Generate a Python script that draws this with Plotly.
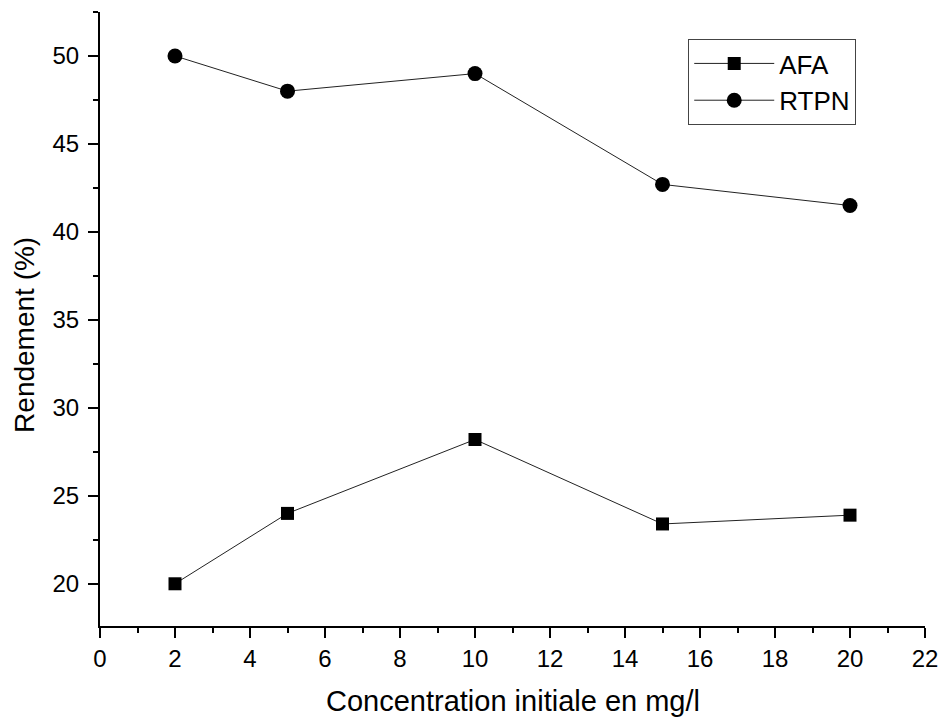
import plotly.graph_objects as go

concentration = [2, 5, 10, 15, 20]
afa = [20.0, 24.0, 28.2, 23.4, 23.9]
rtpn = [50.0, 48.0, 49.0, 42.7, 41.5]

FONT = "Liberation Sans, Arial, sans-serif"

fig = go.Figure()
fig.add_trace(go.Scatter(
    x=concentration, y=afa, name="AFA", mode="lines+markers",
    line=dict(color="#222222", width=1),
    marker=dict(symbol="square", size=13, color="black"),
))
fig.add_trace(go.Scatter(
    x=concentration, y=rtpn, name="RTPN", mode="lines+markers",
    line=dict(color="#222222", width=1),
    marker=dict(symbol="circle", size=15, color="black"),
))

axis_common = dict(
    showline=True, linecolor="black", linewidth=2,
    ticks="outside", ticklen=10, tickwidth=2, tickcolor="black",
    showgrid=False, zeroline=False, mirror=False, automargin=False,
    tickfont=dict(family=FONT, size=24, color="black"),
)

fig.update_layout(
    width=941, height=717,
    margin=dict(l=100, r=16, t=12, b=91),
    paper_bgcolor="white", plot_bgcolor="white",
    font=dict(family=FONT, color="black"),
    xaxis=dict(
        range=[0, 22], dtick=2, tick0=0,
        minor=dict(dtick=1, ticks="outside", ticklen=5, tickwidth=2, tickcolor="black"),
        **axis_common,
    ),
    yaxis=dict(
        range=[17.6, 52.5], dtick=5, tick0=0, ticklabelstandoff=4,
        minor=dict(dtick=2.5, ticks="outside", ticklen=5, tickwidth=2, tickcolor="black"),
        **axis_common,
    ),
    legend=dict(
        x=0.713, y=0.956, xanchor="left", yanchor="top",
        bordercolor="#444444", borderwidth=1, bgcolor="white",
        font=dict(family=FONT, size=26, color="black"),
        itemwidth=80, tracegroupgap=0,
    ),
    showlegend=True,
    annotations=[
        dict(
            text="Rendement (%)", textangle=-90, showarrow=False,
            xref="paper", yref="paper", x=-0.091, y=0.474,
            xanchor="center", yanchor="middle",
            font=dict(family=FONT, size=28, color="black"),
        ),
        dict(
            text="Concentration initiale en mg/l", showarrow=False,
            xref="paper", yref="paper", x=0.5, y=-0.1225,
            xanchor="center", yanchor="middle",
            font=dict(family=FONT, size=29, color="black"),
        ),
    ],
)

fig.write_html(
    "out.html",
    config={"displayModeBar": False},
    post_script="document.body.style.margin='0';document.body.style.overflow='hidden';",
)
